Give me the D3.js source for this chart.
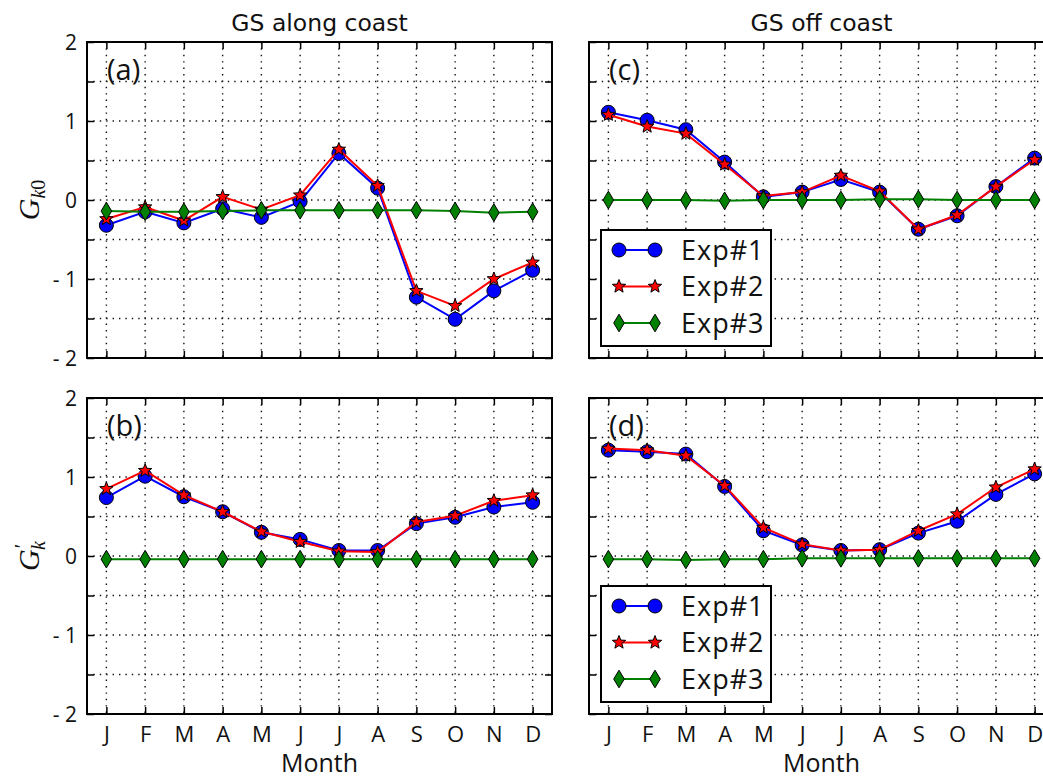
<!DOCTYPE html>
<html>
<head>
<meta charset="utf-8">
<script src="https://cdn.jsdelivr.net/npm/d3@7"></script>
<style>
  html, body { margin: 0; padding: 0; background: #fff; }
  svg { display: block; }
</style>
</head>
<body>
<svg id="chart" width="1043" height="778"></svg>
<script>
// Month labels and y-axis ticks
const months = ["J", "F", "M", "A", "M", "J", "J", "A", "S", "O", "N", "D"];
const yTickValues = [-2, -1.5, -1, -0.5, 0, 0.5, 1, 1.5, 2];
const yTickLabels = { "-2": "- 2", "-1": "- 1", "0": "0", "1": "1", "2": "2" };
const seriesNames = ["Exp#1", "Exp#2", "Exp#3"];

// (a) GS along coast, G_k0
const alongG0Exp1 = [-0.32, -0.15, -0.29, -0.11, -0.22, -0.02, 0.59, 0.15, -1.23, -1.51, -1.15, -0.89];
const alongG0Exp2 = [-0.24, -0.09, -0.26, 0.04, -0.12, 0.06, 0.64, 0.18, -1.15, -1.34, -1.00, -0.79];
const alongG0Exp3 = [-0.14, -0.15, -0.15, -0.14, -0.13, -0.13, -0.13, -0.13, -0.13, -0.14, -0.16, -0.15];

// (b) GS along coast, G'_k
const alongGpExp1 = [0.74, 1.01, 0.75, 0.56, 0.30, 0.21, 0.07, 0.07, 0.41, 0.49, 0.62, 0.68];
const alongGpExp2 = [0.85, 1.08, 0.77, 0.56, 0.31, 0.18, 0.06, 0.05, 0.43, 0.51, 0.70, 0.77];
const alongGpExp3 = [-0.04, -0.04, -0.04, -0.04, -0.04, -0.04, -0.04, -0.04, -0.04, -0.04, -0.04, -0.04];

// (c) GS off coast, G_k0
const offG0Exp1 = [1.11, 1.01, 0.89, 0.48, 0.04, 0.10, 0.26, 0.10, -0.37, -0.20, 0.17, 0.53];
const offG0Exp2 = [1.08, 0.93, 0.84, 0.45, 0.05, 0.10, 0.31, 0.11, -0.37, -0.19, 0.17, 0.51];
const offG0Exp3 = [0.00, 0.00, 0.00, -0.01, 0.00, 0.00, 0.00, 0.01, 0.01, 0.00, 0.00, 0.00];

// (d) GS off coast, G'_k
const offGpExp1 = [1.34, 1.32, 1.29, 0.88, 0.32, 0.14, 0.07, 0.08, 0.29, 0.44, 0.78, 1.04];
const offGpExp2 = [1.36, 1.34, 1.27, 0.89, 0.36, 0.15, 0.07, 0.08, 0.32, 0.53, 0.87, 1.10];
const offGpExp3 = [-0.04, -0.04, -0.05, -0.04, -0.04, -0.03, -0.03, -0.03, -0.03, -0.03, -0.03, -0.03];

const svg = d3.select("#chart");
const W = 465, H = 316;
const tickFont = "'Open Sans', sans-serif";

const styles = [
  { color: "#0000ff", marker: "circle" },
  { color: "#ff0000", marker: "star" },
  { color: "#008000", marker: "diamond" }
];

function starPath(R, r) {
  const pts = [];
  for (let i = 0; i < 10; i++) {
    const a = -Math.PI / 2 + i * Math.PI / 5;
    const rad = i % 2 === 0 ? R : r;
    pts.push([rad * Math.cos(a), rad * Math.sin(a)]);
  }
  return "M" + pts.map(p => p.join(",")).join("L") + "Z";
}
const markerPaths = {
  circle: d3.symbol().type(d3.symbolCircle).size(Math.PI * 7 * 7)(),
  star: starPath(7, 3),
  diamond: "M0,-8.8L5.3,0L0,8.8L-5.3,0Z"
};

function drawMarker(g, type, color, x, y) {
  g.append("path")
    .attr("d", markerPaths[type])
    .attr("transform", `translate(${x},${y})`)
    .attr("fill", color)
    .attr("stroke", "#000")
    .attr("stroke-width", 1);
}

const panels = [
  { x0: 87, y0: 42, label: "(a)", series: [alongG0Exp1, alongG0Exp2, alongG0Exp3], title: "GS along coast", yTicks: true, ylab: "G0", xTicks: false, legend: false },
  { x0: 87, y0: 398, label: "(b)", series: [alongGpExp1, alongGpExp2, alongGpExp3], yTicks: true, ylab: "Gp", xTicks: true, legend: false },
  { x0: 589, y0: 42, label: "(c)", series: [offG0Exp1, offG0Exp2, offG0Exp3], title: "GS off coast", yTicks: false, xTicks: false, legend: true },
  { x0: 589, y0: 398, label: "(d)", series: [offGpExp1, offGpExp2, offGpExp3], yTicks: false, xTicks: true, legend: true }
];

const x = d3.scaleLinear().domain([0.5, 12.5]).range([0, W]);
const y = d3.scaleLinear().domain([-2, 2]).range([H, 0]);
const monthIdx = d3.range(1, 13);

panels.forEach(p => {
  const g = svg.append("g").attr("transform", `translate(${p.x0},${p.y0})`);

  // dotted grid
  const grid = g.append("g").attr("class", "grid");
  grid.selectAll("line.vx").data(monthIdx).join("line")
    .attr("x1", d => x(d)).attr("x2", d => x(d))
    .attr("y1", 0).attr("y2", H);
  grid.selectAll("line.hy").data(yTickValues.slice(1, -1)).join("line")
    .attr("x1", 0).attr("x2", W)
    .attr("y1", d => y(d)).attr("y2", d => y(d));
  grid.selectAll("line")
    .attr("stroke", "#111").attr("stroke-width", 1.4)
    .attr("stroke-dasharray", "1.4,5");

  // inward ticks on all four sides
  const tickLen = -7;
  const bottom = g.append("g").attr("transform", `translate(0,${H})`)
    .call(d3.axisBottom(x).tickValues(monthIdx).tickSizeInner(tickLen).tickSizeOuter(0)
      .tickPadding(12).tickFormat(d => p.xTicks ? months[d - 1] : ""));
  const top = g.append("g")
    .call(d3.axisTop(x).tickValues(monthIdx).tickSizeInner(tickLen).tickSizeOuter(0).tickFormat(""));
  const left = g.append("g")
    .call(d3.axisLeft(y).tickValues(yTickValues).tickSizeInner(tickLen).tickSizeOuter(0)
      .tickPadding(10).tickFormat(d => p.yTicks ? (yTickLabels[String(d)] || "") : ""));
  const right = g.append("g").attr("transform", `translate(${W},0)`)
    .call(d3.axisRight(y).tickValues(yTickValues).tickSizeInner(tickLen).tickSizeOuter(0).tickFormat(""));
  [bottom, top, left, right].forEach(a => {
    a.select(".domain").remove();
    a.selectAll(".tick line").attr("stroke", "#000").attr("stroke-width", 1.5);
    a.selectAll(".tick text").attr("fill", "#111").attr("font-family", tickFont);
  });
  bottom.selectAll(".tick text").attr("font-size", 22).attr("dy", "0.71em");
  left.selectAll(".tick text").attr("font-size", 21).attr("dy", "0.36em");

  // series: line then markers, in plotting order
  p.series.forEach((vals, si) => {
    const st = styles[si];
    const line = d3.line().x((d, i) => x(i + 1)).y(d => y(d));
    g.append("path").datum(vals).attr("d", line)
      .attr("fill", "none").attr("stroke", st.color).attr("stroke-width", 2);
    const mg = g.append("g");
    vals.forEach((v, i) => drawMarker(mg, st.marker, st.color, x(i + 1), y(v)));
  });

  // frame
  g.append("rect").attr("x", 0).attr("y", 0).attr("width", W).attr("height", H)
    .attr("fill", "none").attr("stroke", "#000").attr("stroke-width", 2);

  // panel label
  g.append("text").attr("x", 20).attr("y", 38).text(p.label)
    .attr("font-family", tickFont).attr("font-size", 29).attr("fill", "#111");

  if (p.title) {
    g.append("text").attr("x", W / 2).attr("y", -11).attr("text-anchor", "middle")
      .attr("font-family", "'DejaVu Sans', sans-serif").attr("font-size", 23.5).attr("fill", "#111")
      .text(p.title);
  }

  if (p.xTicks) {
    g.append("text").attr("x", W / 2).attr("y", H + 58).attr("text-anchor", "middle")
      .attr("font-family", tickFont).attr("font-size", 25).attr("fill", "#111")
      .text("Month");
  }

  if (p.ylab) {
    const t = g.append("text")
      .attr("transform", `translate(-48,${H / 2}) rotate(-90)`)
      .attr("text-anchor", "middle")
      .attr("font-family", "'Liberation Serif', serif").attr("font-size", 30).attr("fill", "#111");
    t.append("tspan").attr("font-style", "italic").text("G");
    if (p.ylab === "G0") {
      t.append("tspan").attr("font-style", "italic").attr("font-size", 20).attr("dy", 6).text("k");
      t.append("tspan").attr("font-size", 20).text("0");
    } else {
      t.append("tspan").attr("font-size", 20).attr("dy", -10).attr("dx", 1).text("\u2032");
      t.append("tspan").attr("font-style", "italic").attr("font-size", 20).attr("dy", 16).attr("dx", -6).text("k");
    }
  }

  if (p.legend) {
    const lg = g.append("g").attr("transform", "translate(12,188)");
    lg.append("rect").attr("width", 170).attr("height", 116)
      .attr("fill", "#fff").attr("stroke", "#000").attr("stroke-width", 2);
    seriesNames.forEach((name, si) => {
      const ry = 20 + si * 36.5;
      const st = styles[si];
      lg.append("line").attr("x1", 18).attr("x2", 54).attr("y1", ry).attr("y2", ry)
        .attr("stroke", st.color).attr("stroke-width", 2);
      drawMarker(lg, st.marker, st.color, 18, ry);
      drawMarker(lg, st.marker, st.color, 54, ry);
      lg.append("text").attr("x", 80).attr("y", ry).attr("dy", "0.36em")
        .attr("font-family", tickFont).attr("font-size", 27).attr("letter-spacing", 1)
        .attr("fill", "#111")
        .text(name);
    });
  }
});
</script>
</body>
</html>
